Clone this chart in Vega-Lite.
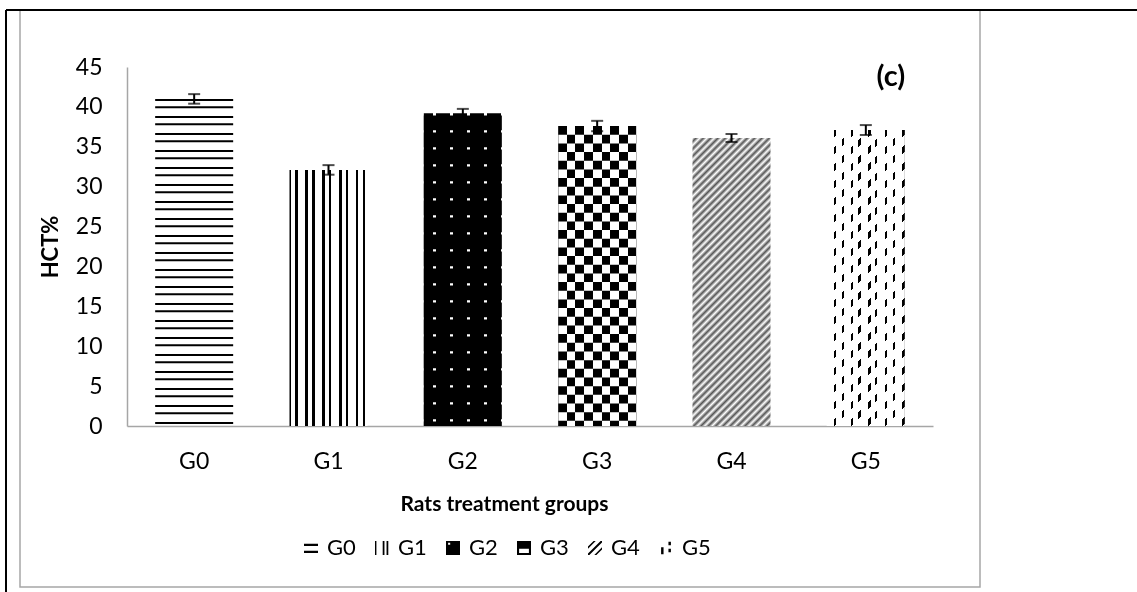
{
  "$schema": "https://vega.github.io/schema/vega-lite/v6.json",
  "width": 960,
  "height": 577,
  "autosize": {"type": "none"},
  "padding": {"left": 20, "top": 10, "right": 157, "bottom": 5},
  "background": "white",
  "config": {
    "font": "Lato",
    "view": {"stroke": "#a6a6a6", "strokeWidth": 1.5},
    "axis": {"labelFont": "Lato", "titleFont": "Lato", "labelColor": "black", "titleColor": "black", "grid": false},
    "text": {"font": "Lato"}
  },
  "resolve": {"scale": {"x": "independent", "y": "independent"}},
  "layer": [
    {
      "data": {"values": [
        {"group": "G0", "value": 41.0, "err": 0.6},
        {"group": "G1", "value": 32.1, "err": 0.6},
        {"group": "G2", "value": 39.2, "err": 0.55},
        {"group": "G3", "value": 37.6, "err": 0.65},
        {"group": "G4", "value": 36.1, "err": 0.5},
        {"group": "G5", "value": 37.1, "err": 0.62}
      ]},
      "encoding": {
        "x": {
          "field": "group", "type": "nominal",
          "scale": {"domain": ["G0", "G1", "G2", "G3", "G4", "G5"], "range": [107, 913], "paddingInner": 0.4193, "paddingOuter": 0.20965},
          "axis": {"title": "Rats treatment groups", "titleFontWeight": "bold", "titleFontSize": 21, "titleX": 484, "titleY": 67, "titleBaseline": "top",
                   "labelAngle": 0, "labelFontSize": 23, "labelPadding": 24, "ticks": false, "tickSize": 0,
                   "domainColor": "#a6a6a6", "domainWidth": 1.5, "offset": -161}
        },
        "y": {
          "field": "value", "type": "quantitative",
          "scale": {"domain": [0, 45], "range": [416, 57], "nice": false, "zero": true},
          "axis": {"title": "HCT%", "titleFontWeight": "bold", "titleFontSize": 22, "titleX": -77, "titleBaseline": "middle",
                   "values": [0, 5, 10, 15, 20, 25, 30, 35, 40, 45], "labelFontSize": 23, "labelPadding": 25, "ticks": false, "tickSize": 0,
                   "domainColor": "#a6a6a6", "domainWidth": 1.5, "offset": -107}
        }
      },
      "layer": [
        {
          "transform": [{"filter": "datum.group === 'G0'"}],
          "mark": {"type": "rule", "stroke": "black", "strokeWidth": 78, "strokeDash": [2, 5.3, 2, 7.7], "strokeCap": "butt"},
          "encoding": {"y2": {"datum": 0}}
        },
        {
          "transform": [{"filter": "datum.group === 'G1'"}],
          "mark": {"type": "bar", "fill": {"gradient": "linear", "x1": 0, "y1": 0, "x2": 1, "y2": 0, "stops": [
            {"offset": 0, "color": "#000"}, {"offset": 0.015, "color": "#000"}, {"offset": 0.015, "color": "#fff"},
            {"offset": 0.0744, "color": "#fff"}, {"offset": 0.0744, "color": "#000"}, {"offset": 0.1038, "color": "#000"}, {"offset": 0.1038, "color": "#fff"},
            {"offset": 0.2026, "color": "#fff"}, {"offset": 0.2026, "color": "#000"}, {"offset": 0.2321, "color": "#000"}, {"offset": 0.2321, "color": "#fff"},
            {"offset": 0.2923, "color": "#fff"}, {"offset": 0.2923, "color": "#000"}, {"offset": 0.3218, "color": "#000"}, {"offset": 0.3218, "color": "#fff"},
            {"offset": 0.4205, "color": "#fff"}, {"offset": 0.4205, "color": "#000"}, {"offset": 0.45, "color": "#000"}, {"offset": 0.45, "color": "#fff"},
            {"offset": 0.5064, "color": "#fff"}, {"offset": 0.5064, "color": "#000"}, {"offset": 0.5359, "color": "#000"}, {"offset": 0.5359, "color": "#fff"},
            {"offset": 0.6385, "color": "#fff"}, {"offset": 0.6385, "color": "#000"}, {"offset": 0.6679, "color": "#000"}, {"offset": 0.6679, "color": "#fff"},
            {"offset": 0.7244, "color": "#fff"}, {"offset": 0.7244, "color": "#000"}, {"offset": 0.7538, "color": "#000"}, {"offset": 0.7538, "color": "#fff"},
            {"offset": 0.8526, "color": "#fff"}, {"offset": 0.8526, "color": "#000"}, {"offset": 0.8821, "color": "#000"}, {"offset": 0.8821, "color": "#fff"},
            {"offset": 0.9385, "color": "#fff"}, {"offset": 0.9385, "color": "#000"}, {"offset": 0.9679, "color": "#000"}, {"offset": 0.9679, "color": "#fff"},
            {"offset": 1, "color": "#fff"}
          ]}}
        },
        {
          "transform": [{"filter": "datum.group === 'G2'"}],
          "mark": {"type": "bar", "fill": {"gradient": "linear", "x1": 0, "y1": 0, "x2": 1, "y2": 0, "stops": [
            {"offset": 0, "color": "#000"}, {"offset": 0.122, "color": "#000"}, {"offset": 0.122, "color": "#fff"}, {"offset": 0.151, "color": "#fff"}, {"offset": 0.151, "color": "#000"},
            {"offset": 0.34, "color": "#000"}, {"offset": 0.34, "color": "#fff"}, {"offset": 0.369, "color": "#fff"}, {"offset": 0.369, "color": "#000"},
            {"offset": 0.558, "color": "#000"}, {"offset": 0.558, "color": "#fff"}, {"offset": 0.587, "color": "#fff"}, {"offset": 0.587, "color": "#000"},
            {"offset": 0.776, "color": "#000"}, {"offset": 0.776, "color": "#fff"}, {"offset": 0.805, "color": "#fff"}, {"offset": 0.805, "color": "#000"},
            {"offset": 0.985, "color": "#000"}, {"offset": 0.985, "color": "#fff"}, {"offset": 1, "color": "#fff"}
          ]}}
        },
        {
          "transform": [{"filter": "datum.group === 'G2'"}],
          "mark": {"type": "rule", "stroke": "black", "strokeWidth": 78, "strokeDash": [14.7, 2.3], "strokeDashOffset": 14.7, "strokeCap": "butt"},
          "encoding": {"y2": {"datum": 0}}
        },
        {
          "transform": [{"filter": "datum.group === 'G3'"}],
          "mark": {"type": "bar", "fill": {"gradient": "linear", "x1": 0, "y1": 0, "x2": 1, "y2": 0, "stops": [
            {"offset": 0, "color": "#000"}, {"offset": 0.1111, "color": "#000"}, {"offset": 0.1111, "color": "#fff"}, {"offset": 0.2222, "color": "#fff"},
            {"offset": 0.2222, "color": "#000"}, {"offset": 0.3333, "color": "#000"}, {"offset": 0.3333, "color": "#fff"}, {"offset": 0.4444, "color": "#fff"},
            {"offset": 0.4444, "color": "#000"}, {"offset": 0.5556, "color": "#000"}, {"offset": 0.5556, "color": "#fff"}, {"offset": 0.6667, "color": "#fff"},
            {"offset": 0.6667, "color": "#000"}, {"offset": 0.7778, "color": "#000"}, {"offset": 0.7778, "color": "#fff"}, {"offset": 0.8889, "color": "#fff"},
            {"offset": 0.8889, "color": "#000"}, {"offset": 1, "color": "#000"}
          ]}}
        },
        {
          "transform": [{"filter": "datum.group === 'G3'"}],
          "mark": {"type": "rule", "stroke": "white", "strokeWidth": 78, "strokeDash": [8.67, 8.67], "strokeDashOffset": 8.67, "strokeCap": "butt", "blend": "difference"},
          "encoding": {"y2": {"datum": 0}}
        },
        {
          "transform": [{"filter": "datum.group === 'G4'"}],
          "mark": {"type": "bar", "fill": {"gradient": "linear", "x1": 0, "y1": 0, "x2": 0.3207, "y2": 1.184, "stops": [
            {"offset": 0, "color": "#fff"}, {"offset": 0.01, "color": "#555"}, {"offset": 0.02, "color": "#fff"}, {"offset": 0.03, "color": "#555"}, {"offset": 0.04, "color": "#fff"},
            {"offset": 0.05, "color": "#555"}, {"offset": 0.06, "color": "#fff"}, {"offset": 0.07, "color": "#555"}, {"offset": 0.08, "color": "#fff"}, {"offset": 0.09, "color": "#555"},
            {"offset": 0.10, "color": "#fff"}, {"offset": 0.11, "color": "#555"}, {"offset": 0.12, "color": "#fff"}, {"offset": 0.13, "color": "#555"}, {"offset": 0.14, "color": "#fff"},
            {"offset": 0.15, "color": "#555"}, {"offset": 0.16, "color": "#fff"}, {"offset": 0.17, "color": "#555"}, {"offset": 0.18, "color": "#fff"}, {"offset": 0.19, "color": "#555"},
            {"offset": 0.20, "color": "#fff"}, {"offset": 0.21, "color": "#555"}, {"offset": 0.22, "color": "#fff"}, {"offset": 0.23, "color": "#555"}, {"offset": 0.24, "color": "#fff"},
            {"offset": 0.25, "color": "#555"}, {"offset": 0.26, "color": "#fff"}, {"offset": 0.27, "color": "#555"}, {"offset": 0.28, "color": "#fff"}, {"offset": 0.29, "color": "#555"},
            {"offset": 0.30, "color": "#fff"}, {"offset": 0.31, "color": "#555"}, {"offset": 0.32, "color": "#fff"}, {"offset": 0.33, "color": "#555"}, {"offset": 0.34, "color": "#fff"},
            {"offset": 0.35, "color": "#555"}, {"offset": 0.36, "color": "#fff"}, {"offset": 0.37, "color": "#555"}, {"offset": 0.38, "color": "#fff"}, {"offset": 0.39, "color": "#555"},
            {"offset": 0.40, "color": "#fff"}, {"offset": 0.41, "color": "#555"}, {"offset": 0.42, "color": "#fff"}, {"offset": 0.43, "color": "#555"}, {"offset": 0.44, "color": "#fff"},
            {"offset": 0.45, "color": "#555"}, {"offset": 0.46, "color": "#fff"}, {"offset": 0.47, "color": "#555"}, {"offset": 0.48, "color": "#fff"}, {"offset": 0.49, "color": "#555"},
            {"offset": 0.50, "color": "#fff"}, {"offset": 0.51, "color": "#555"}, {"offset": 0.52, "color": "#fff"}, {"offset": 0.53, "color": "#555"}, {"offset": 0.54, "color": "#fff"},
            {"offset": 0.55, "color": "#555"}, {"offset": 0.56, "color": "#fff"}, {"offset": 0.57, "color": "#555"}, {"offset": 0.58, "color": "#fff"}, {"offset": 0.59, "color": "#555"},
            {"offset": 0.60, "color": "#fff"}, {"offset": 0.61, "color": "#555"}, {"offset": 0.62, "color": "#fff"}, {"offset": 0.63, "color": "#555"}, {"offset": 0.64, "color": "#fff"},
            {"offset": 0.65, "color": "#555"}, {"offset": 0.66, "color": "#fff"}, {"offset": 0.67, "color": "#555"}, {"offset": 0.68, "color": "#fff"}, {"offset": 0.69, "color": "#555"},
            {"offset": 0.70, "color": "#fff"}, {"offset": 0.71, "color": "#555"}, {"offset": 0.72, "color": "#fff"}, {"offset": 0.73, "color": "#555"}, {"offset": 0.74, "color": "#fff"},
            {"offset": 0.75, "color": "#555"}, {"offset": 0.76, "color": "#fff"}, {"offset": 0.77, "color": "#555"}, {"offset": 0.78, "color": "#fff"}, {"offset": 0.79, "color": "#555"},
            {"offset": 0.80, "color": "#fff"}, {"offset": 0.81, "color": "#555"}, {"offset": 0.82, "color": "#fff"}, {"offset": 0.83, "color": "#555"}, {"offset": 0.84, "color": "#fff"},
            {"offset": 0.85, "color": "#555"}, {"offset": 0.86, "color": "#fff"}, {"offset": 0.87, "color": "#555"}, {"offset": 0.88, "color": "#fff"}, {"offset": 0.89, "color": "#555"},
            {"offset": 0.90, "color": "#fff"}, {"offset": 0.91, "color": "#555"}, {"offset": 0.92, "color": "#fff"}, {"offset": 0.93, "color": "#555"}, {"offset": 0.94, "color": "#fff"},
            {"offset": 0.95, "color": "#555"}, {"offset": 0.96, "color": "#fff"}, {"offset": 0.97, "color": "#555"}, {"offset": 0.98, "color": "#fff"}, {"offset": 0.99, "color": "#555"},
            {"offset": 1, "color": "#fff"}
          ]}}
        },
        {
          "transform": [{"filter": "datum.group === 'G5'"}],
          "mark": {"type": "bar", "fill": {"gradient": "linear", "x1": 0, "y1": 0, "x2": 1, "y2": 0, "stops": [
            {"offset": 0, "color": "#fff"}, {"offset": 0.092, "color": "#fff"}, {"offset": 0.092, "color": "#000"}, {"offset": 0.1215, "color": "#000"}, {"offset": 0.1215, "color": "#fff"},
            {"offset": 0.191, "color": "#fff"}, {"offset": 0.191, "color": "#000"}, {"offset": 0.2205, "color": "#000"}, {"offset": 0.2205, "color": "#fff"},
            {"offset": 0.306, "color": "#fff"}, {"offset": 0.306, "color": "#000"}, {"offset": 0.3355, "color": "#000"}, {"offset": 0.3355, "color": "#fff"},
            {"offset": 0.404, "color": "#fff"}, {"offset": 0.404, "color": "#000"}, {"offset": 0.4335, "color": "#000"}, {"offset": 0.4335, "color": "#fff"},
            {"offset": 0.532, "color": "#fff"}, {"offset": 0.532, "color": "#000"}, {"offset": 0.5615, "color": "#000"}, {"offset": 0.5615, "color": "#fff"},
            {"offset": 0.618, "color": "#fff"}, {"offset": 0.618, "color": "#000"}, {"offset": 0.6475, "color": "#000"}, {"offset": 0.6475, "color": "#fff"},
            {"offset": 0.746, "color": "#fff"}, {"offset": 0.746, "color": "#000"}, {"offset": 0.7755, "color": "#000"}, {"offset": 0.7755, "color": "#fff"},
            {"offset": 0.845, "color": "#fff"}, {"offset": 0.845, "color": "#000"}, {"offset": 0.8745, "color": "#000"}, {"offset": 0.8745, "color": "#fff"},
            {"offset": 0.968, "color": "#fff"}, {"offset": 0.968, "color": "#000"}, {"offset": 0.9975, "color": "#000"}, {"offset": 0.9975, "color": "#fff"},
            {"offset": 1, "color": "#fff"}
          ]}}
        },
        {
          "transform": [{"filter": "datum.group === 'G5'"}],
          "mark": {"type": "bar", "fill": {"gradient": "linear", "x1": 0, "y1": 0, "x2": 0.3114, "y2": 1.1815, "stops": [
            {"offset": 0, "color": "#fff"},
            {"offset": 0.0193, "color": "#fff"}, {"offset": 0.0193, "color": "rgba(255,255,255,0)"}, {"offset": 0.0388, "color": "rgba(255,255,255,0)"}, {"offset": 0.0388, "color": "#fff"},
            {"offset": 0.0647, "color": "#fff"}, {"offset": 0.0647, "color": "rgba(255,255,255,0)"}, {"offset": 0.0842, "color": "rgba(255,255,255,0)"}, {"offset": 0.0842, "color": "#fff"},
            {"offset": 0.1102, "color": "#fff"}, {"offset": 0.1102, "color": "rgba(255,255,255,0)"}, {"offset": 0.1297, "color": "rgba(255,255,255,0)"}, {"offset": 0.1297, "color": "#fff"},
            {"offset": 0.1556, "color": "#fff"}, {"offset": 0.1556, "color": "rgba(255,255,255,0)"}, {"offset": 0.1751, "color": "rgba(255,255,255,0)"}, {"offset": 0.1751, "color": "#fff"},
            {"offset": 0.2011, "color": "#fff"}, {"offset": 0.2011, "color": "rgba(255,255,255,0)"}, {"offset": 0.2206, "color": "rgba(255,255,255,0)"}, {"offset": 0.2206, "color": "#fff"},
            {"offset": 0.2465, "color": "#fff"}, {"offset": 0.2465, "color": "rgba(255,255,255,0)"}, {"offset": 0.2660, "color": "rgba(255,255,255,0)"}, {"offset": 0.2660, "color": "#fff"},
            {"offset": 0.2920, "color": "#fff"}, {"offset": 0.2920, "color": "rgba(255,255,255,0)"}, {"offset": 0.3115, "color": "rgba(255,255,255,0)"}, {"offset": 0.3115, "color": "#fff"},
            {"offset": 0.3374, "color": "#fff"}, {"offset": 0.3374, "color": "rgba(255,255,255,0)"}, {"offset": 0.3569, "color": "rgba(255,255,255,0)"}, {"offset": 0.3569, "color": "#fff"},
            {"offset": 0.3829, "color": "#fff"}, {"offset": 0.3829, "color": "rgba(255,255,255,0)"}, {"offset": 0.4024, "color": "rgba(255,255,255,0)"}, {"offset": 0.4024, "color": "#fff"},
            {"offset": 0.4283, "color": "#fff"}, {"offset": 0.4283, "color": "rgba(255,255,255,0)"}, {"offset": 0.4478, "color": "rgba(255,255,255,0)"}, {"offset": 0.4478, "color": "#fff"},
            {"offset": 0.4738, "color": "#fff"}, {"offset": 0.4738, "color": "rgba(255,255,255,0)"}, {"offset": 0.4933, "color": "rgba(255,255,255,0)"}, {"offset": 0.4933, "color": "#fff"},
            {"offset": 0.5193, "color": "#fff"}, {"offset": 0.5193, "color": "rgba(255,255,255,0)"}, {"offset": 0.5388, "color": "rgba(255,255,255,0)"}, {"offset": 0.5388, "color": "#fff"},
            {"offset": 0.5647, "color": "#fff"}, {"offset": 0.5647, "color": "rgba(255,255,255,0)"}, {"offset": 0.5842, "color": "rgba(255,255,255,0)"}, {"offset": 0.5842, "color": "#fff"},
            {"offset": 0.6102, "color": "#fff"}, {"offset": 0.6102, "color": "rgba(255,255,255,0)"}, {"offset": 0.6297, "color": "rgba(255,255,255,0)"}, {"offset": 0.6297, "color": "#fff"},
            {"offset": 0.6556, "color": "#fff"}, {"offset": 0.6556, "color": "rgba(255,255,255,0)"}, {"offset": 0.6751, "color": "rgba(255,255,255,0)"}, {"offset": 0.6751, "color": "#fff"},
            {"offset": 0.7011, "color": "#fff"}, {"offset": 0.7011, "color": "rgba(255,255,255,0)"}, {"offset": 0.7206, "color": "rgba(255,255,255,0)"}, {"offset": 0.7206, "color": "#fff"},
            {"offset": 0.7465, "color": "#fff"}, {"offset": 0.7465, "color": "rgba(255,255,255,0)"}, {"offset": 0.7660, "color": "rgba(255,255,255,0)"}, {"offset": 0.7660, "color": "#fff"},
            {"offset": 0.7920, "color": "#fff"}, {"offset": 0.7920, "color": "rgba(255,255,255,0)"}, {"offset": 0.8115, "color": "rgba(255,255,255,0)"}, {"offset": 0.8115, "color": "#fff"},
            {"offset": 0.8374, "color": "#fff"}, {"offset": 0.8374, "color": "rgba(255,255,255,0)"}, {"offset": 0.8569, "color": "rgba(255,255,255,0)"}, {"offset": 0.8569, "color": "#fff"},
            {"offset": 0.8829, "color": "#fff"}, {"offset": 0.8829, "color": "rgba(255,255,255,0)"}, {"offset": 0.9024, "color": "rgba(255,255,255,0)"}, {"offset": 0.9024, "color": "#fff"},
            {"offset": 0.9283, "color": "#fff"}, {"offset": 0.9283, "color": "rgba(255,255,255,0)"}, {"offset": 0.9478, "color": "rgba(255,255,255,0)"}, {"offset": 0.9478, "color": "#fff"},
            {"offset": 0.9738, "color": "#fff"}, {"offset": 0.9738, "color": "rgba(255,255,255,0)"}, {"offset": 0.9933, "color": "rgba(255,255,255,0)"}, {"offset": 0.9933, "color": "#fff"},
            {"offset": 1, "color": "#fff"}
          ]}}
        },
        {
          "mark": {"type": "errorbar", "ticks": {"size": 12, "thickness": 2, "color": "black"}, "rule": {"strokeWidth": 2, "color": "black"}},
          "encoding": {"yError": {"field": "err"}}
        },
        {
          "mark": {"type": "point", "filled": true, "size": 0, "color": "black"},
          "encoding": {
            "shape": {
              "field": "group", "type": "nominal",
              "scale": {
                "domain": ["G0", "G1", "G2", "G3", "G4", "G5"],
                "range": [
                  "M-1,-0.6H1V-0.3H-1Z M-1,0.4H1V0.7H-1Z",
                  "M-1,-1H-0.8V1H-1Z M0.1,-1H0.35V1H0.1Z M0.65,-1H0.9V1H0.65Z",
                  "M-1,-1H1V1H-1Z M-0.7,-0.75V-0.45H-0.4V-0.75Z",
                  "M-1,-1H1V1H-1Z M-0.7,0.1V0.7H0.7V0.1Z",
                  "M-1,0.8L0.8,-1H1V-0.8L-0.8,1H-1Z M-1,-0.2L-0.2,-1H0.1L-1,0.1Z M-0.1,1L1,-0.1V0.2L0.2,1Z",
                  "M-0.7,-0.1H-0.35V0.9H-0.7Z M0.35,-0.9H0.7V-0.4H0.35Z M0.35,0.1H0.7V0.6H0.35Z"
                ]
              },
              "legend": {
                "orient": "none", "legendX": 280, "legendY": 527, "direction": "horizontal", "title": null,
                "symbolSize": 196, "symbolFillColor": "black", "symbolStrokeColor": "black", "symbolStrokeWidth": 0, "symbolOpacity": 1,
                "labelFont": "Lato", "labelFontSize": 22, "labelColor": "black", "labelOffset": 5, "columnPadding": 15, "padding": 0
              }
            }
          }
        },
        {
          "transform": [{"filter": "datum.group === 'G5'"}],
          "mark": {"type": "text", "font": "Lato", "fontWeight": "bold", "fontSize": 29, "color": "black", "baseline": "middle", "align": "center", "dx": 25},
          "encoding": {
            "y": {"datum": 43.8},
            "text": {"value": "(c)"}
          }
        }
      ]
    },
    {
      "data": {"values": [{"edge": "frame"}]},
      "layer": [
        {
          "mark": {"type": "rule", "color": "black", "strokeWidth": 2},
          "encoding": {
            "x": {"datum": 0, "type": "quantitative", "scale": {"domain": [0, 1], "range": [-14, 1117]}, "axis": null},
            "x2": {"datum": 1},
            "y": {"datum": 1, "type": "quantitative", "scale": {"domain": [0, 1], "range": [582, 0]}, "axis": null}
          }
        },
        {
          "mark": {"type": "rule", "color": "black", "strokeWidth": 2},
          "encoding": {
            "x": {"datum": 0, "type": "quantitative", "scale": {"domain": [0, 1], "range": [-14, 1117]}, "axis": null},
            "y": {"datum": 0, "type": "quantitative", "scale": {"domain": [0, 1], "range": [582, 0]}, "axis": null},
            "y2": {"datum": 1}
          }
        }
      ]
    }
  ]
}
